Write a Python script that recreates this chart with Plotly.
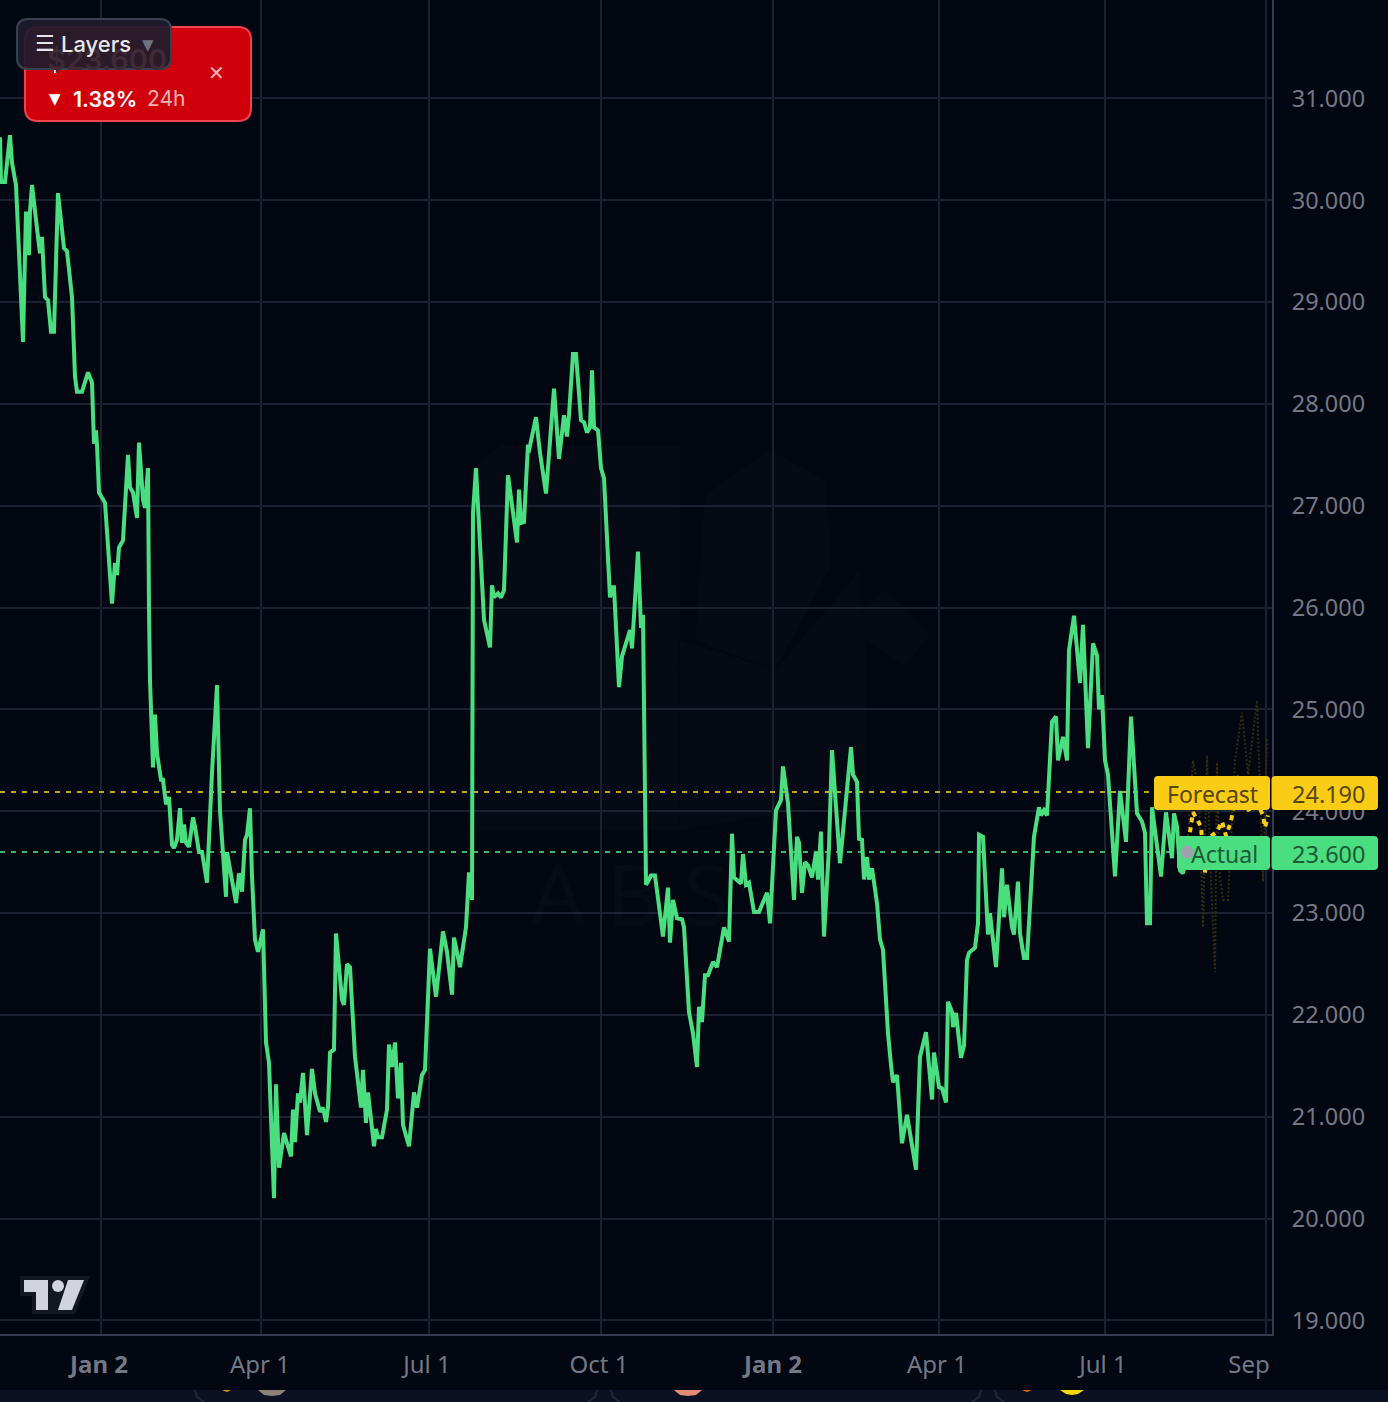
#import libraries
import plotly.graph_objs as go

#Price line (session number, price)
sessions = [
    -40.4, -40.0, -38.4, -36.4, -35.6, -34.0, -31.2, -30.0, -29.6, -28.8, -28.4, -27.6, -25.2, -24.4, -23.6, -22.4,
    -21.2, -20.0, -18.8, -17.2, -14.8, -13.6, -11.6, -10.4, -9.6, -7.6, -5.2, -3.6, -2.8, -2.0, -1.6, -0.8,
    1.6, 4.4, 5.6, 6.4, 7.2, 8.8, 10.8, 11.6, 12.8, 14.4, 15.2, 16.8, 17.6, 18.8, 19.2, 19.6,
    20.8, 21.6, 22.4, 24.0, 24.8, 26.0, 27.2, 28.4, 29.2, 30.4, 31.6, 32.4, 33.2, 34.0, 35.2, 36.8,
    37.6, 39.2, 40.4, 42.4, 44.4, 46.4, 47.6, 50.0, 50.4, 51.6, 54.0, 55.2, 56.4, 57.6, 58.4, 59.6,
    60.4, 61.6, 62.8, 64.8, 66.0, 67.2, 69.2, 70.0, 71.2, 73.2, 76.0, 76.8, 77.6, 78.8, 79.6, 80.8,
    82.4, 84.4, 85.6, 87.6, 88.8, 90.0, 90.8, 91.6, 93.2, 94.0, 96.4, 97.2, 98.4, 99.6, 101.6, 104.0,
    104.8, 106.0, 106.8, 109.2, 110.0, 110.8, 112.4, 114.4, 115.2, 116.4, 117.6, 118.8, 120.0, 120.8, 123.2, 125.2,
    126.4, 128.4, 129.6, 131.6, 134.0, 136.8, 138.4, 140.4, 141.2, 143.6, 146.0, 147.2, 148.4, 148.6, 148.8, 150.0,
    153.2, 155.6, 156.4, 157.2, 158.8, 160.0, 161.2, 162.8, 166.4, 167.2, 168.0, 169.2, 170.8, 171.0, 174.0, 175.6,
    178.0, 181.2, 183.2, 185.2, 186.4, 187.2, 188.8, 190.0, 192.0, 193.2, 194.4, 195.6, 196.4, 197.2, 198.8, 200.0,
    201.2, 203.6, 204.4, 205.2, 207.2, 208.4, 211.6, 212.4, 214.8, 216.0, 216.8, 217.2, 217.6, 218.0, 218.8, 220.0,
    221.6, 224.8, 226.8, 227.6, 228.8, 230.4, 232.4, 233.2, 235.2, 236.8, 238.4, 239.2, 240.4, 241.6, 242.8, 244.8,
    246.4, 249.2, 251.2, 252.4, 253.2, 256.0, 256.8, 258.0, 259.2, 261.2, 263.2, 264.8, 266.4, 267.6, 270.0, 272.0,
    272.8, 274.8, 277.2, 278.4, 279.2, 280.4, 281.6, 282.8, 284.4, 286.0, 286.8, 288.0, 289.2, 291.2, 292.4, 295.6,
    298.4, 300.0, 300.8, 302.4, 303.2, 304.4, 305.2, 306.4, 307.2, 308.4, 310.4, 311.6, 312.8, 314.8, 316.0, 316.8,
    318.4, 320.4, 322.4, 326.0, 327.6, 330.0, 332.4, 333.2, 335.2, 336.4, 338.0, 338.8, 340.4, 340.8, 342.0, 344.0,
    345.2, 346.4, 347.2, 349.6, 350.8, 351.2, 352.8, 354.8, 355.6, 356.4, 358.0, 360.4, 361.2, 362.4, 364.4, 365.2,
    366.8, 367.6, 369.2, 370.4, 373.2, 375.2, 376.0, 377.2, 378.4, 380.4, 382.0, 382.8, 384.8, 386.4, 387.2, 389.2,
    391.6, 392.8, 394.8, 396.8, 398.4, 399.2, 400.4, 401.6, 402.8, 405.6, 407.6, 410.0, 412.0, 414.4, 416.4, 417.6,
    418.4, 419.6, 420.4, 424.0, 426.0, 428.4, 429.2, 430.4, 431.6, 432.8, 434.4,
]
prices = [
    30.62, 30.18, 30.18, 30.64, 30.37, 30.15, 28.61, 29.89, 29.48, 29.48, 29.89, 30.15, 29.64, 29.48, 29.64, 29.05,
    29.02, 28.71, 28.71, 30.07, 29.53, 29.50, 29.05, 28.27, 28.12, 28.12, 28.31, 28.21, 27.61, 27.74, 27.60, 27.13,
    27.03, 26.04, 26.44, 26.32, 26.59, 26.66, 27.50, 27.18, 27.13, 26.88, 27.62, 27.06, 26.98, 27.37, 25.98, 25.29,
    24.43, 24.95, 24.57, 24.31, 24.31, 24.07, 24.14, 23.67, 23.64, 23.72, 24.03, 23.69, 23.87, 23.69, 23.65, 23.94,
    23.85, 23.60, 23.60, 23.30, 24.38, 25.24, 24.01, 23.16, 23.60, 23.45, 23.10, 23.39, 23.21, 23.72, 23.77, 24.03,
    23.36, 22.74, 22.62, 22.84, 21.73, 21.53, 20.20, 21.32, 20.50, 20.84, 20.61, 21.07, 20.75, 21.23, 21.14, 21.43,
    20.82, 21.47, 21.23, 21.05, 21.09, 20.95, 21.09, 21.63, 21.66, 22.80, 22.15, 22.10, 22.50, 22.47, 21.59, 21.09,
    21.46, 20.94, 21.24, 20.71, 20.88, 20.80, 20.80, 21.07, 21.71, 21.49, 21.73, 21.18, 21.53, 20.92, 20.71, 21.24,
    21.09, 21.41, 21.46, 22.65, 22.18, 22.82, 22.62, 22.20, 22.76, 22.47, 22.86, 23.40, 23.13, 25.09, 26.93, 27.37,
    25.88, 25.61, 26.22, 26.10, 26.14, 26.10, 26.17, 27.30, 26.64, 27.16, 26.83, 26.84, 27.60, 27.52, 27.87, 27.52,
    27.12, 28.15, 27.46, 27.89, 27.68, 27.89, 28.49, 28.49, 27.84, 27.82, 27.72, 27.77, 28.33, 27.77, 27.74, 27.37,
    27.27, 26.10, 26.20, 26.20, 25.22, 25.52, 25.78, 25.60, 26.55, 25.80, 25.93, 25.09, 24.70, 23.28, 23.31, 23.37,
    23.37, 22.77, 23.25, 22.71, 23.13, 22.95, 22.94, 22.86, 22.03, 21.82, 21.49, 22.08, 21.93, 22.39, 22.39, 22.52,
    22.47, 22.86, 22.72, 23.78, 23.35, 23.29, 23.58, 23.28, 23.30, 23.01, 23.01, 23.11, 23.20, 22.90, 24.01, 24.11,
    24.44, 24.08, 23.13, 23.75, 23.69, 23.20, 23.50, 23.47, 23.35, 23.60, 23.33, 23.80, 22.77, 23.65, 24.60, 23.49,
    24.16, 24.63, 24.36, 24.29, 23.73, 23.72, 23.33, 23.55, 23.33, 23.44, 23.10, 22.74, 22.64, 21.82, 21.51, 21.34,
    21.41, 20.74, 21.02, 20.48, 21.59, 21.83, 21.17, 21.63, 21.29, 21.28, 21.14, 22.13, 22.03, 21.88, 22.02, 21.58,
    21.70, 22.54, 22.61, 22.66, 22.90, 23.77, 23.75, 22.79, 23.00, 22.79, 22.47, 23.44, 22.96, 23.28, 22.86, 22.79,
    23.31, 22.80, 22.56, 22.56, 23.75, 24.04, 23.96, 24.01, 23.96, 24.88, 24.93, 24.50, 24.73, 24.50, 25.58, 25.92,
    25.26, 25.83, 24.62, 25.65, 25.53, 25.00, 25.14, 24.50, 24.36, 23.36, 24.20, 23.70, 24.93, 23.98, 23.90, 23.79,
    22.90, 22.90, 24.04, 23.36, 23.99, 23.54, 23.98, 23.85, 23.42, 23.39, 23.60,
]

#Forecast path and the faint projection behind it
forecast_sessions = [434.4, 436.0, 436.8, 440.0, 441.6, 443.2, 446.4, 448.4, 450.0, 452.0, 453.6, 455.2, 456.8, 459.6, 462.0, 464.8, 465.6, 466.8]
forecast_prices = [23.60, 23.84, 23.99, 23.85, 23.40, 23.74, 23.80, 23.90, 23.76, 23.90, 24.11, 24.36, 24.11, 23.99, 24.11, 23.96, 23.84, 23.96]
ghost_sessions = [434.4, 436.8, 439.2, 440.8, 442.4, 444.0, 445.6, 446.4, 447.6, 448.8, 450.8, 453.6, 456.4, 458.8, 462.4, 464.8, 466.4]
ghost_prices = [23.60, 24.50, 24.21, 22.86, 24.55, 23.33, 22.42, 24.48, 23.35, 23.13, 23.13, 24.50, 24.97, 24.36, 25.09, 23.31, 24.72]

actual_price = 23.600
forecast_price = 24.190
first_session = -40.4
last_dashed_session = 421.2

#Axis ticks
tick_sessions = [-0.8, 63.6, 130.4, 199.2, 268.8, 334.4, 400.8, 459.2]
tick_labels = ['<b>Jan 2</b>', 'Apr 1', 'Jul 1', 'Oct 1', '<b>Jan 2</b>', 'Apr 1', 'Jul 1', 'Sep']
grid_sessions = [0, 64, 131.2, 200, 268.8, 335.2, 401.6, 466]

BG = '#030712'
GRID = '#1b2130'
GREEN = '#4ade80'
YELLOW = '#facc15'
AXIS_TEXT = '#747885'
WIDTH_PLOT = 1272
HEIGHT_PLOT = 1334


def px(x):
    return x / WIDTH_PLOT


def py(y):
    return 1 - y / HEIGHT_PLOT


def poly(points, close=True):
    path = 'M ' + ' L '.join(f'{px(x):.5f} {py(y):.5f}' for x, y in points)
    return path + (' Z' if close else '')


def rounded(x0, y0, x1, y1, r):
    return (f'M {px(x0 + r):.5f} {py(y0):.5f} L {px(x1 - r):.5f} {py(y0):.5f} '
            f'Q {px(x1):.5f} {py(y0):.5f} {px(x1):.5f} {py(y0 + r):.5f} '
            f'L {px(x1):.5f} {py(y1 - r):.5f} Q {px(x1):.5f} {py(y1):.5f} {px(x1 - r):.5f} {py(y1):.5f} '
            f'L {px(x0 + r):.5f} {py(y1):.5f} Q {px(x0):.5f} {py(y1):.5f} {px(x0):.5f} {py(y1 - r):.5f} '
            f'L {px(x0):.5f} {py(y0 + r):.5f} Q {px(x0):.5f} {py(y0):.5f} {px(x0 + r):.5f} {py(y0):.5f} Z')


def path_shape(path, fill='rgba(0,0,0,0)', line=None, width=0, layer='above'):
    return dict(type='path', xref='paper', yref='paper', path=path, fillcolor=fill,
                line=dict(color=line or 'rgba(0,0,0,0)', width=width), layer=layer)


def label(x, y, text, size, color, font='Noto Sans', anchor='left', weight=None):
    font_opts = dict(size=size, color=color, family=font)
    if weight:
        font_opts['weight'] = weight
    return dict(xref='paper', yref='paper', x=px(x), y=py(y), text=text, showarrow=False,
                xanchor=anchor, yanchor='middle', borderpad=0, font=font_opts)


plot_data = [
    go.Scatter(x=[first_session, last_dashed_session], y=[forecast_price, forecast_price], mode='lines',
               line=dict(color='#c9a312', width=2, dash='5px,6px')),
    go.Scatter(x=[first_session, 434.4], y=[actual_price, actual_price], mode='lines',
               line=dict(color='#38b86c', width=2, dash='5px,6px')),
    go.Scatter(x=ghost_sessions, y=ghost_prices, mode='lines', line=dict(color='#352c0e', width=2, dash='2px,2px')),
    go.Scatter(x=forecast_sessions, y=forecast_prices, mode='lines', line=dict(color=YELLOW, width=4, dash='5px,5px')),
    go.Scatter(x=sessions, y=prices, mode='lines', line=dict(color=GREEN, width=4)),
]

fig = go.Figure(data=plot_data)

#Faint watermark, then cards and badges
WM = '#060a14'
shapes = [
    path_shape(poly([(470, 470), (500, 445), (680, 445), (680, 830), (470, 830)]), fill=WM, layer='below'),
    path_shape(poly([(705, 495), (770, 450), (825, 480), (832, 565), (775, 670), (695, 640)]), fill=WM, layer='below'),
    path_shape(poly([(680, 640), (775, 670), (860, 570), (860, 800), (680, 830)]), fill=WM, layer='below'),
    path_shape(poly([(835, 640), (885, 590), (930, 635), (905, 665), (865, 640), (865, 800), (835, 800)]), fill=WM, layer='below'),
    #TradingView mark
    path_shape(poly([(20, 1276), (90, 1276), (75, 1314), (32, 1314), (32, 1296), (20, 1296)]), fill='#131722'),
    path_shape(poly([(24, 1280), (48, 1280), (48, 1310), (36, 1310), (36, 1292), (24, 1292)]), fill='#d1d4dc'),
    path_shape(poly([(68, 1280), (84, 1280), (72, 1310), (58, 1310)]), fill='#d1d4dc'),
    dict(type='circle', xref='paper', yref='paper', x0=px(52), x1=px(64), y0=py(1292), y1=py(1280),
         fillcolor='#d1d4dc', line=dict(width=0), layer='above'),
    #Price card and layer switch
    path_shape(rounded(25, 27, 251, 121, 13), fill='#cf000b', line='#ee4450', width=2),
    path_shape(poly([(54, 69), (57, 69), (57, 73), (54, 73)]), fill='#ffffff'),
    path_shape(rounded(17, 19, 171, 69, 11), fill='rgba(30,28,44,0.93)', line='#374151', width=2),
    #Forecast and actual badges
    path_shape(rounded(1154, 776, 1270, 810, 4), fill=YELLOW),
    path_shape(rounded(1271.5, 776, 1378, 810, 4), fill=YELLOW),
    path_shape(rounded(1177, 836, 1270, 870, 4), fill=GREEN),
    path_shape(rounded(1271.5, 836, 1378, 870, 4), fill=GREEN),
    dict(type='circle', xref='x', yref='y', x0=431.8, x1=437.0, y0=actual_price - 0.064, y1=actual_price + 0.064,
         fillcolor='#9ca3af', line=dict(width=0), layer='above'),
    #Strip of the next page section along the bottom
    path_shape(poly([(0, 1390), (1388, 1390), (1388, 1402), (0, 1402)]), fill='#0b1120'),
    path_shape(poly([(195, 1390), (197, 1397), (204, 1402)], close=False), line='#1e293b', width=2),
    path_shape(poly([(597, 1390), (595, 1397), (588, 1402)], close=False), line='#1e293b', width=2),
    path_shape(poly([(611, 1390), (613, 1397), (620, 1402)], close=False), line='#1e293b', width=2),
    path_shape(poly([(981, 1390), (979, 1397), (972, 1402)], close=False), line='#1e293b', width=2),
    path_shape(poly([(995, 1390), (997, 1397), (1004, 1402)], close=False), line='#1e293b', width=2),
    path_shape(poly([(258, 1390), (286, 1390), (280, 1395), (272, 1396), (264, 1395)]), fill='#8d8378'),
    path_shape(poly([(674, 1390), (702, 1390), (696, 1395), (688, 1396), (680, 1395)]), fill='#e58c78'),
    path_shape(poly([(1060, 1390), (1084, 1390), (1078, 1394), (1072, 1395), (1066, 1394)]), fill='#f5d90a'),
    path_shape(poly([(222, 1390), (231, 1390), (227, 1392)]), fill='#e0920f'),
    path_shape(poly([(1022, 1390), (1032, 1390), (1027, 1392)]), fill='#e0700f'),
]

annotations = [
    label(530, 892, 'A B S', 84, 'rgba(255,255,255,0.018)', font='Noto Sans'),
    label(168, 60, '$23.600', 29, '#3f2a36', font='Inter', anchor='right', weight=600),
    label(34, 44, '<b>☰</b>', 22, '#e5e7eb', font='DejaVu Sans'),
    label(60, 44, 'Layers', 22, '#e5e7eb', font='Inter', weight=500),
    label(141, 45, '▼', 15, '#6b7280', font='DejaVu Sans'),
    label(48, 99, '▼', 15, '#ffffff', font='DejaVu Sans'),
    label(72, 99, '1.38%', 21.5, '#ffffff', font='Inter', weight=600),
    label(146, 99, '24h', 21, '#f3b2b7', font='Inter'),
    label(216, 73, '✕', 20, '#f3b2b7', font='DejaVu Sans', anchor='center'),
    label(1166, 794, 'Forecast', 23, '#55470f'),
    label(1291, 794, f'{forecast_price:.3f}', 23.5, '#55470f'),
    label(1190, 854, 'Actual', 23, '#1d5a38'),
    label(1291, 854, f'{actual_price:.3f}', 23.5, '#1d5a38'),
]

#Update layout for graph object Figure
fig.update_layout(width=1388, height=1402, showlegend=False,
                  margin=dict(l=0, r=116, t=0, b=68, pad=0),
                  paper_bgcolor=BG, plot_bgcolor=BG,
                  shapes=shapes, annotations=annotations)
fig.update_xaxes(range=[first_session, 468.4], tickmode='array', tickvals=tick_sessions, ticktext=tick_labels,
                 showgrid=False, zeroline=False, showline=True, linecolor='#363c4e', linewidth=2,
                 ticks='outside', ticklen=8, tickcolor='rgba(0,0,0,0)',
                 tickfont=dict(family='Noto Sans', size=24, color=AXIS_TEXT), tickangle=0,
                 minor=dict(tickmode='array', tickvals=grid_sessions, showgrid=True, gridcolor=GRID, gridwidth=2, ticks=''))
fig.update_yaxes(range=[18.867, 31.967], side='right', tick0=19, dtick=1, tickformat='.3f',
                 showgrid=True, gridcolor=GRID, gridwidth=2, zeroline=False,
                 showline=True, linecolor='#363c4e', linewidth=2,
                 ticks='outside', ticklen=13, tickcolor='rgba(0,0,0,0)',
                 tickfont=dict(family='Noto Sans', size=23.5, color=AXIS_TEXT))

fig.write_html("out.html", config=dict(displayModeBar=False),
               post_script="document.body.style.margin='0';document.body.style.overflow='hidden';document.body.style.background='#030712';")
